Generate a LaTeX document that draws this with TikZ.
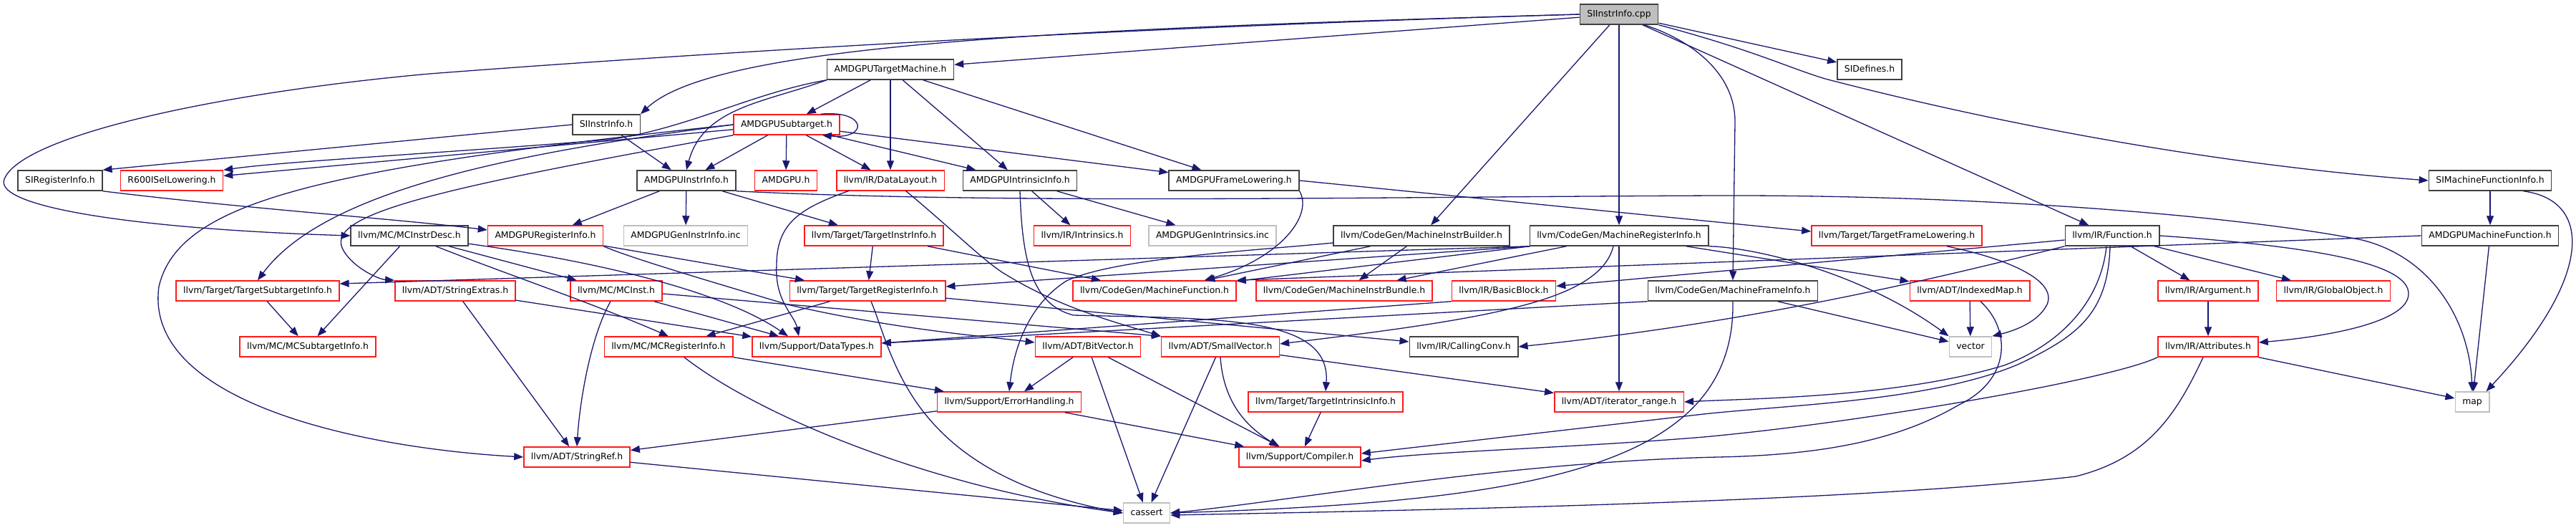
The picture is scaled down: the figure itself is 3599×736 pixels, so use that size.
\documentclass[tikz,border=0pt]{standalone}
\usepackage{fontspec}
\setmainfont{DejaVu Sans}
\usetikzlibrary{arrows.meta}
\definecolor{edgeblue}{HTML}{191970}
\definecolor{grey75}{HTML}{BFBFBF}
\definecolor{boxblack}{HTML}{404040}
\definecolor{boxred}{HTML}{FF1A1A}
\tikzset{
  hdr/.style={draw=boxblack, line width=1.5pt, fill=white, minimum height=28pt,
    inner xsep=10pt, inner ysep=0pt, text height=9.5pt, text depth=3pt,
    font=\fontsize{12.4}{14}\selectfont},
  redhdr/.style={hdr, draw=boxred},
  syshdr/.style={hdr, draw=grey75},
  roothdr/.style={hdr, fill=grey75},
  inc/.style={draw=edgeblue, line width=1.3pt, -{Triangle[length=13pt,width=10pt]}}
}
\begin{document}
\begin{tikzpicture}[x=1pt,y=1pt]
\useasboundingbox (0,0) rectangle (3599,-736);
\node[roothdr] (cpp) at (2262,-20) {SIInstrInfo.cpp};
\node[hdr] (atm) at (1244,-97) {AMDGPUTargetMachine.h};
\node[hdr] (sidef) at (2612,-97) {SIDefines.h};
\node[hdr] (siinfo) at (847,-174) {SIInstrInfo.h};
\node[redhdr] (subtgt) at (1099,-174) {AMDGPUSubtarget.h};
\node[hdr] (sireg) at (84,-252) {SIRegisterInfo.h};
\node[redhdr] (r600) at (240,-252) {R600ISelLowering.h};
\node[hdr] (instrinfo) at (959,-252) {AMDGPUInstrInfo.h};
\node[redhdr] (amdgpu) at (1098,-252) {AMDGPU.h};
\node[redhdr] (datalayout) at (1244,-252) {llvm/IR/DataLayout.h};
\node[hdr] (intrinfo) at (1425,-252) {AMDGPUIntrinsicInfo.h};
\node[hdr] (framelow) at (1724,-252) {AMDGPUFrameLowering.h};
\node[hdr] (simfi) at (3479,-252) {SIMachineFunctionInfo.h};
\node[hdr] (mcdesc) at (572,-329) {llvm/MC/MCInstrDesc.h};
\node[redhdr] (amdreg) at (762,-329) {AMDGPURegisterInfo.h};
\node[syshdr] (geninstr) at (958,-329) {AMDGPUGenInstrInfo.inc};
\node[redhdr] (tgtinstr) at (1221,-329) {llvm/Target/TargetInstrInfo.h};
\node[redhdr] (intrinsics) at (1512,-329) {llvm/IR/Intrinsics.h};
\node[syshdr] (genintr) at (1694,-329) {AMDGPUGenIntrinsics.inc};
\node[hdr] (mib) at (1986,-329) {llvm/CodeGen/MachineInstrBuilder.h};
\node[hdr] (mri) at (2262,-329) {llvm/CodeGen/MachineRegisterInfo.h};
\node[redhdr] (tfl) at (2650,-329) {llvm/Target/TargetFrameLowering.h};
\node[hdr] (function) at (2951,-329) {llvm/IR/Function.h};
\node[hdr] (amdmf) at (3479,-329) {AMDGPUMachineFunction.h};
\node[redhdr] (tsi) at (360,-406) {llvm/Target/TargetSubtargetInfo.h};
\node[redhdr] (strext) at (636,-406) {llvm/ADT/StringExtras.h};
\node[redhdr] (mcinst) at (861,-406) {llvm/MC/MCInst.h};
\node[redhdr] (tri) at (1212,-406) {llvm/Target/TargetRegisterInfo.h};
\node[redhdr] (mfunc) at (1613,-406) {llvm/CodeGen/MachineFunction.h};
\node[redhdr] (mibundle) at (1878,-406) {llvm/CodeGen/MachineInstrBundle.h};
\node[redhdr] (bblock) at (2101,-406) {llvm/IR/BasicBlock.h};
\node[hdr] (mfi) at (2421,-406) {llvm/CodeGen/MachineFrameInfo.h};
\node[redhdr] (idxmap) at (2752,-406) {llvm/ADT/IndexedMap.h};
\node[redhdr] (argument) at (3085,-406) {llvm/IR/Argument.h};
\node[redhdr] (globobj) at (3260,-406) {llvm/IR/GlobalObject.h};
\node[redhdr] (mcsti) at (430,-484) {llvm/MC/MCSubtargetInfo.h};
\node[redhdr] (mcreg) at (934,-484) {llvm/MC/MCRegisterInfo.h};
\node[redhdr] (datatypes) at (1141,-484) {llvm/Support/DataTypes.h};
\node[redhdr] (bitvec) at (1520,-484) {llvm/ADT/BitVector.h};
\node[redhdr] (smallvec) at (1705,-484) {llvm/ADT/SmallVector.h};
\node[hdr] (callconv) at (2045,-484) {llvm/IR/CallingConv.h};
\node[syshdr] (vector) at (2753,-484) {vector};
\node[redhdr] (attrs) at (3085,-484) {llvm/IR/Attributes.h};
\node[redhdr] (errhand) at (1410,-561) {llvm/Support/ErrorHandling.h};
\node[redhdr] (tii) at (1852,-561) {llvm/Target/TargetIntrinsicInfo.h};
\node[redhdr] (iterrange) at (2262,-561) {llvm/ADT/iterator\_range.h};
\node[syshdr] (map) at (3454,-561) {map};
\node[redhdr] (strref) at (806,-638) {llvm/ADT/StringRef.h};
\node[redhdr] (compiler) at (1816,-638) {llvm/Support/Compiler.h};
\node[syshdr] (cassert) at (1602,-716) {cassert};

\draw[inc] (cpp) -- (atm);
\draw[inc] (cpp.west) .. controls (1500,-40) and (1000,-60) .. (siinfo.north east);
\draw[inc] (cpp.west) .. controls (1500,-40) and (900,-80) .. (600,-103)
  .. controls (300,-130) and (30,-190) .. (6,-250) .. controls (-10,-290) and (200,-320) .. (mcdesc.west);
\draw[inc] (cpp) -- (mib);
\draw[inc] (cpp) -- (mri);
\draw[inc] ([xshift=-20pt]cpp.south east) .. controls (2360,-55) and (2424,-100) .. (2424,-170) -- (mfi.north);
\draw[inc] (cpp) -- (sidef);
\draw[inc] (cpp.south east) .. controls (2450,-70) and (2500,-95) .. (2550,-110)
  .. controls (2800,-175) and (3100,-230) .. (simfi.west);
\draw[inc] (cpp) -- (function);

\draw[inc] (atm) -- (subtgt);
\draw[inc] (atm.south west) .. controls (1050,-130) and (960,-180) .. (850,-195)
  .. controls (600,-215) and (400,-225) .. (r600.north east);
\draw[inc] (atm.south west) to[out=200,in=75] (instrinfo.north);
\draw[inc] (atm) -- (datalayout);
\draw[inc] (atm) -- (intrinfo);
\draw[inc] (atm) -- (framelow);

\draw[inc] ([xshift=-27pt]subtgt.north east) .. controls +(65,6) and +(65,-6) .. ([xshift=-25pt]subtgt.south east);
\draw[inc] (subtgt) -- (instrinfo);
\draw[inc] (subtgt) -- (amdgpu);
\draw[inc] (subtgt) -- (datalayout);
\draw[inc] (subtgt) -- (intrinfo);
\draw[inc] (subtgt) -- (framelow);
\draw[inc] (subtgt) -- (r600);
\draw[inc] (subtgt.west) .. controls (700,-215) and (450,-270) .. (tsi.north);
\draw[inc] (subtgt.south west) .. controls (600,-265) and (450,-300) .. (480,-350)
  .. controls (495,-375) and (530,-390) .. (strext.north west);
\draw[inc] (subtgt.west) .. controls (450,-235) and (250,-280) .. (222,-400)
  .. controls (200,-560) and (500,-625) .. (strref.west);

\draw[inc] (siinfo) -- (instrinfo);
\draw[inc] (siinfo.west) -- (sireg.north east);
\draw[inc] (sireg.south east) .. controls (350,-292) and (550,-305) .. ([yshift=8pt]amdreg.west);

\draw[inc] (instrinfo) -- (amdreg);
\draw[inc] (instrinfo) -- (geninstr);
\draw[inc] (instrinfo) -- (tgtinstr);
\draw[inc] (instrinfo.south east) .. controls (1400,-285) and (1900,-275) .. (2400,-273)
  .. controls (2800,-272) and (3150,-305) .. (3300,-335) .. controls (3400,-360) and (3450,-450) .. (map.north);

\draw[inc] (1187,-266) .. controls (1120,-290) and (1085,-310) .. (1085,-370)
  .. controls (1082,-420) and (1110,-440) .. ([xshift=-25pt]datatypes.north);
\draw[inc] (1265,-266) .. controls (1330,-320) and (1370,-360) .. (1400,-380)
  .. controls (1480,-430) and (1560,-450) .. (smallvec.north west);

\draw[inc] (intrinfo) -- (intrinsics);
\draw[inc] (intrinfo) -- (genintr);
\draw[inc] (intrinfo.south) .. controls (1428,-360) and (1440,-425) .. (1500,-440)
  .. controls (1700,-445) and (1860,-440) .. (tii.north);

\draw[inc] (framelow.east) -- ([yshift=6pt]tfl.west);
\draw[inc] (framelow.south east) .. controls (1835,-300) and (1790,-360) .. ([xshift=-45pt]mfunc.north east);

\draw[inc] (simfi) -- (amdmf);
\draw[inc] ([xshift=-40pt]simfi.south east) .. controls (3625,-280) and (3620,-390) .. ([xshift=-5pt]map.north east);

\draw[inc] (mcdesc) -- (mcsti);
\draw[inc] (mcdesc) .. controls (700,-380) and (820,-420) .. (mcreg.north);
\draw[inc] (mcdesc) -- (mcinst);
\draw[inc] (mcdesc) .. controls (800,-360) and (1000,-400) .. ([xshift=-40pt]datatypes.north);

\draw[inc] (amdreg) -- ([xshift=-88pt]tri.north);
\draw[inc] (amdreg.south east) .. controls (880,-360) and (1000,-395) .. (1100,-425)
  .. controls (1250,-460) and (1380,-470) .. ([yshift=6pt]bitvec.west);

\draw[inc] (tgtinstr) -- (tri);
\draw[inc] (tgtinstr) -- (mfunc);

\draw[inc] (mib) -- (mfunc);
\draw[inc] (mib) -- (mibundle);
\draw[inc] ([yshift=-10pt]mib.west) .. controls (1750,-350) and (1560,-360) .. (1490,-392)
  .. controls (1430,-430) and (1415,-500) .. (errhand.north);

\draw[inc] (mri) -- (mfunc);
\draw[inc] (mri) -- (mibundle);
\draw[inc] ([xshift=-8pt]mri.south) .. controls (2235,-420) and (2080,-445) .. ([yshift=4pt]smallvec.east);
\draw[inc] (mri) -- (iterrange);
\draw[inc] (mri) -- (idxmap);
\draw[inc] (mri.south east) .. controls (2450,-345) and (2600,-380) .. (vector.north west);
\draw[inc] (mri.south west) -- ([yshift=6pt]tri.east);
\draw[inc] (mri.south west) -- ([yshift=10pt]tsi.east);

\draw[inc] ([xshift=-50pt]tfl.south east) .. controls (2800,-360) and (2875,-390) .. (2860,-425)
  .. controls (2845,-455) and (2800,-465) .. (vector.north east);

\draw[inc] (function) -- (bblock);
\draw[inc] (function.south west) .. controls (2700,-390) and (2450,-450) .. (callconv.east);
\draw[inc] ([xshift=-8pt]function.south) .. controls (2935,-420) and (2880,-480) .. (2800,-510)
  .. controls (2650,-555) and (2450,-556) .. (iterrange.east);
\draw[inc] ([xshift=-3pt]function.south) .. controls (2945,-440) and (2900,-470) .. (2821,-508)
  .. controls (2700,-560) and (2500,-565) .. (2380,-578) -- ([yshift=5pt]compiler.east);
\draw[inc] (function) -- (argument);
\draw[inc] (function) -- (globobj);
\draw[inc] (function.east) .. controls (3250,-345) and (3365,-370) .. (3365,-410)
  .. controls (3365,-450) and (3250,-470) .. ([yshift=6pt]attrs.east);

\draw[inc] (amdmf.west) -- (mfunc.north east);
\draw[inc] (amdmf) -- (map);

\draw[inc] (tsi) -- (mcsti);
\draw[inc] (strext) -- (strref);
\draw[inc] (strext) -- (datatypes);
\draw[inc] ([xshift=-8pt]mcinst.south) .. controls (825,-470) and (810,-560) .. (strref.north);
\draw[inc] (mcinst) -- (datatypes);
\draw[inc] ([yshift=-4pt]mcinst.east) -- (smallvec.north west);

\draw[inc] (tri) -- (mcreg);
\draw[inc] ([xshift=5pt]tri.south) .. controls (1250,-500) and (1270,-660) .. (cassert.west);
\draw[inc] (tri) -- (callconv);

\draw[inc] (mfi) -- (vector);
\draw[inc] (mfi.south) .. controls (2425,-650) and (2150,-700) .. (cassert.east);
\draw[inc] (mfi.south west) -- ([yshift=5pt]datatypes.east);
\draw[inc] (bblock.south west) -- ([yshift=5pt]datatypes.east);

\draw[inc] (idxmap) -- (vector);
\draw[inc] ([xshift=15pt]idxmap.south) .. controls (2810,-460) and (2810,-530) .. (2737,-565)
  .. controls (2660,-610) and (2560,-635) .. (2400,-638) .. controls (2100,-645) and (1800,-700) .. (cassert.east);

\draw[inc] (argument) -- (attrs);
\draw[inc] (attrs) -- (map);
\draw[inc] ([xshift=-7pt]attrs.south) .. controls (3040,-580) and (3000,-640) .. (2900,-665)
  .. controls (2600,-700) and (2000,-712) .. ([yshift=-3pt]cassert.east);
\draw[inc] (attrs.south west) .. controls (2950,-530) and (2600,-590) .. (2380,-610)
  .. controls (2200,-625) and (2000,-630) .. ([yshift=-5pt]compiler.east);

\draw[inc] (mcreg) -- (errhand);
\draw[inc] ([xshift=22pt]mcreg.south) .. controls (1060,-580) and (1300,-680) .. (cassert.west);

\draw[inc] (bitvec) -- (errhand);
\draw[inc] (bitvec) -- (cassert);
\draw[inc] (bitvec) -- (compiler);

\draw[inc] (smallvec) -- (cassert);
\draw[inc] (smallvec.south) .. controls (1710,-570) and (1750,-600) .. ([xshift=-30pt]compiler.north);
\draw[inc] (smallvec) -- (iterrange);

\draw[inc] (errhand) -- (strref);
\draw[inc] (errhand) -- (compiler);
\draw[inc] (tii) -- (compiler);
\draw[inc] (strref) -- (cassert);
\end{tikzpicture}
\end{document}
